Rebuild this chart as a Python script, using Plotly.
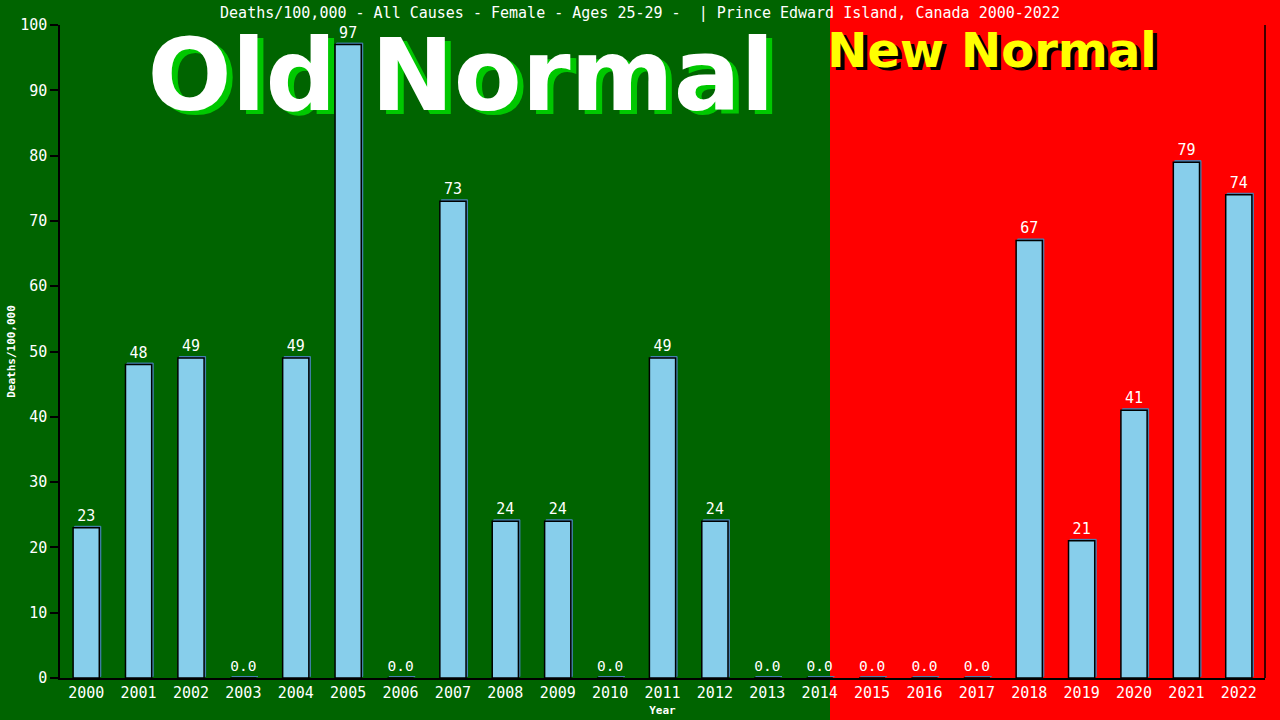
import plotly.graph_objects as go

years = [str(y) for y in range(2000, 2023)]
values = [23, 48, 49, 0, 49, 97, 0, 73, 24, 24, 0, 49, 24, 0, 0, 0, 0, 0, 67, 21, 41, 79, 74]
labels = [("0.0" if v == 0 else str(v)) for v in values]
y_ticks = list(range(0, 101, 10))

title_text = "Deaths/100,000 - All Causes - Female - Ages 25-29 -  | Prince Edward Island, Canada 2000-2022"
old_text = "Old Normal"
new_text = "New Normal"

mono = "DejaVu Sans Mono"
W, H = 1280, 720
L, R, T, B = 60, 15, 25, 42
PW, PH = W - L - R, H - T - B


def px(x):
    return (x - L) / PW


def py(y):
    return (H - B - y) / PH


fig = go.Figure()

# Big background texts on base axes (drawn under bars)
for dx, dy, col in [(6, 4, "#00C800"), (0, 0, "white")]:
    fig.add_trace(go.Scatter(x=[px(461 + dx)], y=[py(85 + dy)], mode="text", text=["<b>" + old_text + "</b>"],
                             textposition="middle center", cliponaxis=False, hoverinfo="skip",
                             textfont=dict(family="DejaVu Sans", size=99, color=col), showlegend=False,
                             xaxis="x", yaxis="y"))
for dx, dy, col in [(4, 3, "black"), (0, 0, "#FFFF00")]:
    fig.add_trace(go.Scatter(x=[px(992 + dx)], y=[py(55 + dy)], mode="text", text=["<b>" + new_text + "</b>"],
                             textposition="middle center", cliponaxis=False, hoverinfo="skip",
                             textfont=dict(family="DejaVu Sans", size=48, color=col), showlegend=False,
                             xaxis="x", yaxis="y"))

# bar shadow
shift_x = 1.5 / (PW / len(years))
shift_y = 1.5 * 100 / PH
fig.add_trace(go.Bar(
    x=years, y=values, base=shift_y, width=0.5, offset=-0.25 + shift_x,
    marker=dict(color="#4682B4", line=dict(color="#4682B4", width=1)),
    showlegend=False, hoverinfo="skip", xaxis="x2", yaxis="y2",
))
fig.add_trace(go.Bar(
    x=years, y=values, text=labels, textposition="outside", width=0.5, offset=-0.25,
    textfont=dict(family=mono, size=15, color="white"),
    marker=dict(color="#87CEEB", line=dict(color="black", width=1.5)),
    cliponaxis=False, showlegend=False, xaxis="x2", yaxis="y2",
))

split = px(830)
fig.add_shape(type="rect", xref="paper", yref="paper", x0=-0.2, x1=split, y0=-0.2, y1=1.2,
              fillcolor="#006400", line=dict(width=0), layer="below")

fig.update_layout(
    width=W, height=H,
    paper_bgcolor="#FF0000", plot_bgcolor="rgba(0,0,0,0)",
    margin=dict(l=L, r=R, t=T, b=B, autoexpand=False),
    title=dict(text=title_text, x=0.5, xanchor="center", y=1 - 13 / H, yanchor="middle",
               font=dict(family=mono, size=15, color="white"), automargin=False),
    barmode="overlay",
    xaxis=dict(range=[0, 1], visible=False, fixedrange=True, automargin=False),
    yaxis=dict(range=[0, 1], visible=False, fixedrange=True, automargin=False),
    xaxis2=dict(type="category", overlaying="x", anchor="y2", side="bottom", showgrid=False, showline=True,
                linecolor="black", linewidth=1.5, ticks="", tickfont=dict(family=mono, size=15, color="white"),
                title=dict(text="<b>Year</b>", font=dict(family=mono, size=11, color="white"), standoff=6),
                zeroline=False, automargin=False),
    yaxis2=dict(range=[0, 100], overlaying="y", anchor="x2", side="left", tickvals=y_ticks, showgrid=False,
                showline=True, linecolor="black", linewidth=1.5,
                ticks="outside", tickcolor="black", ticklen=8, tickwidth=1.5,
                tickfont=dict(family=mono, size=15, color="white"),
                title=dict(text="<b>Deaths/100,000</b>", font=dict(family=mono, size=11, color="white"), standoff=2),
                zeroline=False, automargin=False),
)
fig.add_shape(type="line", xref="paper", yref="paper", x0=1, x1=1, y0=0, y1=1,
              line=dict(color="black", width=1.5))

fig.write_html("out.html", post_script="document.body.style.margin='0px';",
               config={"displayModeBar": False})
